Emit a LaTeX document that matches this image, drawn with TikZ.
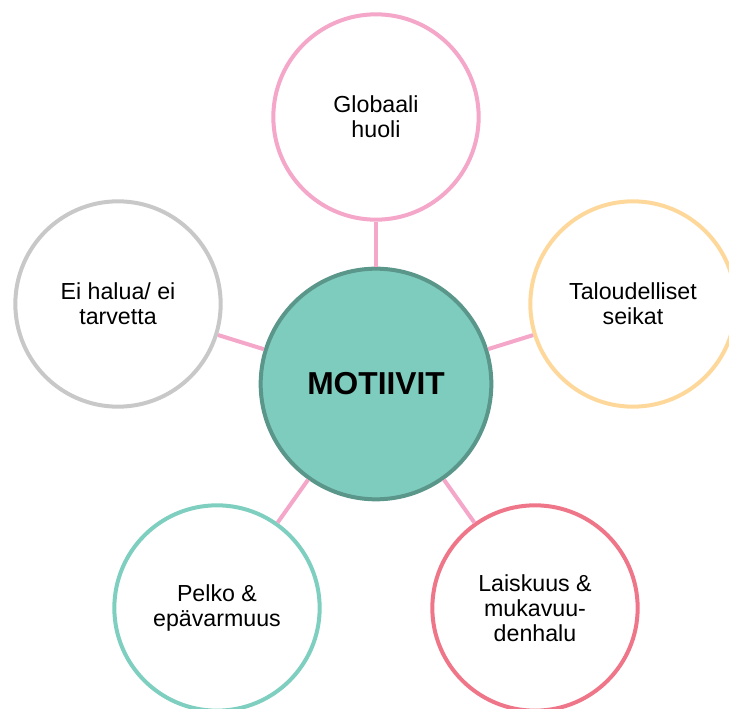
\documentclass[tikz,border=0pt]{standalone}
\usepackage{fontspec}
\setmainfont{Liberation Sans}
\usepackage{xcolor}
\usepackage{tikz}
\usetikzlibrary{positioning}
\definecolor{linkpink}{RGB}{244,167,201}
\definecolor{hubfill}{RGB}{125,204,190}
\definecolor{hubdraw}{RGB}{90,150,138}
\definecolor{peach}{RGB}{254,216,155}
\definecolor{rose}{RGB}{239,118,137}
\definecolor{softgrey}{RGB}{200,200,200}
\definecolor{mint}{RGB}{126,207,192}
\tikzstyle{motive} = [circle, minimum size=154pt, inner sep=0pt, line width=3pt, fill=white, align=center, font=\fontsize{17.4}{18.75}\selectfont]
\tikzstyle{hub} = [circle, minimum size=173pt, inner sep=0pt, line width=3pt, draw=hubdraw, fill=hubfill, font=\fontsize{23.8}{27}\selectfont\bfseries]
\tikzstyle{link} = [line width=3pt, draw=linkpink]

\begin{document}
\begin{tikzpicture}[x=0.75pt, y=-0.75pt]
    \useasboundingbox (0,0) rectangle (729,709);
    \node(hub)[hub] at (376,384) {MOTIIVIT};
    \node(global)[motive, draw=linkpink] at (376,117) {Globaali\\huoli};
    \node(money)[motive, draw=peach] at (633,304) {Taloudelliset\\seikat};
    \node(lazy)[motive, draw=rose] at (535,608) {Laiskuus \&\\mukavuu-\\denhalu};
    \node(fear)[motive, draw=mint] at (217,608) {Pelko \&\\epävarmuus};
    \node(noneed)[motive, draw=softgrey] at (118,304) {Ei halua/ ei\\tarvetta};
    % spokes
    \draw[link](hub)--(global);
    \draw[link](hub)--(money);
    \draw[link](hub)--(lazy);
    \draw[link](hub)--(fear);
    \draw[link](hub)--(noneed);
  \end{tikzpicture}
\end{document}
